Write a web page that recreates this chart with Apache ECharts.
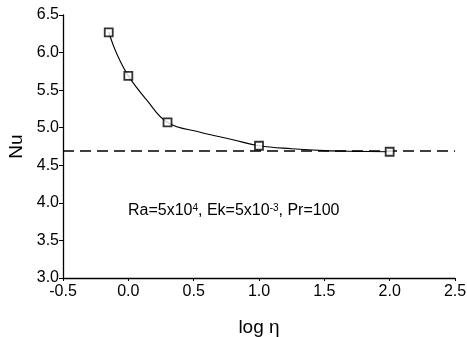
<!DOCTYPE html>
<html><head><meta charset="utf-8">
<script src="https://cdn.jsdelivr.net/npm/echarts@6/dist/echarts.min.js"></script>
<style>html,body{margin:0;padding:0;background:#fff}#c{width:467px;height:337px}</style>
</head><body><div id="c"></div>
<script>
const logEta = [-0.15, 0.0, 0.3, 1.0, 2.0];
const nu = [6.27, 5.69, 5.07, 4.76, 4.68];
const curveX = [-0.15, -0.09, 0.0, 0.14, 0.3, 0.55, 0.8, 1.0, 1.25, 1.5, 1.75, 2.0];
const curveY = [6.27, 5.99, 5.69, 5.37, 5.07, 4.94, 4.84, 4.76, 4.72, 4.695, 4.685, 4.68];
const asymptoteX = [-0.5, 2.5];
const asymptoteY = [4.69, 4.69];
const xTicks = [-0.5, 0.0, 0.5, 1.0, 1.5, 2.0, 2.5];
const yTicks = [3.0, 3.5, 4.0, 4.5, 5.0, 5.5, 6.0, 6.5];
const annotation = '{b|Ra=5x10}{s|4}{b|, Ek=5x10}{s|-3}{b|, Pr=100}';

const font = 'Liberation Sans, Arial, Helvetica, sans-serif';
const chart = echarts.init(document.getElementById('c'), null, {renderer: 'canvas'});
const zip = (a, b) => a.map((v, i) => [v, b[i]]);
chart.setOption({
  animation: false,
  backgroundColor: '#fff',
  grid: {left: 63, right: 12, top: 15, bottom: 59, containLabel: false, outerBoundsMode: 'none'},
  xAxis: {
    type: 'value', min: xTicks[0], max: xTicks[xTicks.length - 1], interval: 0.5,
    name: 'log η', nameLocation: 'middle', nameGap: 40,
    nameTextStyle: {fontFamily: font, fontSize: 19, color: '#000'},
    axisLine: {onZero: false, lineStyle: {color: '#000', width: 1.3}},
    axisTick: {show: true, length: 3, lineStyle: {color: '#000'}},
    axisLabel: {fontFamily: font, fontSize: 16, color: '#000', margin: 6,
      formatter: v => v.toFixed(1)},
    splitLine: {show: false}
  },
  yAxis: {
    type: 'value', min: yTicks[0], max: yTicks[yTicks.length - 1], interval: 0.5,
    name: 'Nu', nameLocation: 'middle', nameGap: 33, nameRotate: 90,
    nameTextStyle: {fontFamily: font, fontSize: 19, color: '#000'},
    axisLine: {show: true, onZero: false, lineStyle: {color: '#000', width: 1.3}},
    axisTick: {show: true, length: 4, lineStyle: {color: '#000'}},
    axisLabel: {fontFamily: font, fontSize: 16, color: '#000', margin: 4,
      formatter: v => v.toFixed(1)},
    splitLine: {show: false}
  },
  series: [
    {type: 'line', data: zip(asymptoteX, asymptoteY), symbol: 'none',
      lineStyle: {color: '#000', width: 1.3, type: [11, 6]}, z: 1},
    {type: 'line', data: zip(curveX, curveY), symbol: 'none', smooth: 0.4,
      lineStyle: {color: '#000', width: 1.1}, z: 2},
    {type: 'scatter', data: zip(logEta, nu), symbol: 'rect', symbolSize: 8,
      itemStyle: {color: '#fff', borderColor: '#000', borderWidth: 1.8}, z: 3}
  ],
  graphic: [{
    type: 'text', left: 128, top: 203,
    style: {
      text: annotation, fontFamily: font, fontSize: 16, fill: '#000',
      rich: {
        b: {fontSize: 16, lineHeight: 16, verticalAlign: 'bottom', fontFamily: font, fill: '#000'},
        s: {fontSize: 10, lineHeight: 10, verticalAlign: 'top', padding: [0, 0, 10, 0], fontFamily: font, fill: '#000'}
      }
    }
  }]
});
</script></body></html>
